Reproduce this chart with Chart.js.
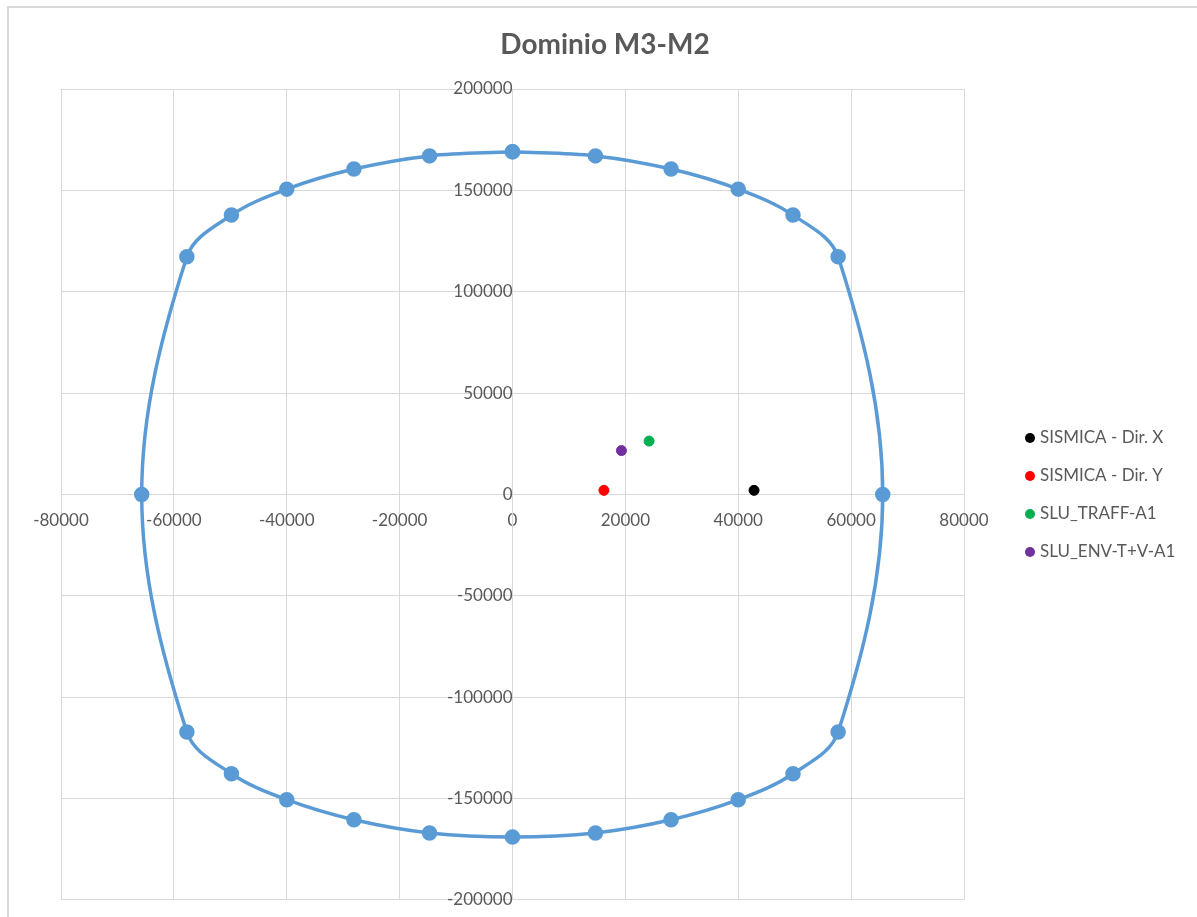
<!DOCTYPE html>
<html>
<head>
<meta charset="utf-8">
<script src="https://cdn.jsdelivr.net/npm/chart.js@4.4.1/dist/chart.umd.min.js"></script>
<style>
  html, body { margin:0; padding:0; background:#fff; }
  #wrap { position:relative; width:1197px; height:917px; overflow:hidden; }
  #frame { position:absolute; left:7px; top:6px; width:1200px; height:1000px;
           border-left:2px solid #d9d9d9; border-top:2px solid #d9d9d9; }
  #chart { position:absolute; left:0; top:0; }
</style>
</head>
<body>
<div id="wrap">
  <div id="frame"></div>
  <canvas id="chart" width="1197" height="929"></canvas>
</div>
<script>
// dominio resistente M3-M2
const domainM3 = [0, 14700, 28100, 40000, 49700, 57700, 65600, 57700, 49700, 40000, 28100, 14700,
                  0, -14700, -28100, -40000, -49800, -57700, -65700, -57700, -49800, -40000, -28100, -14700, 0];
const domainM2 = [169000, 167000, 160500, 150600, 137800, 117200, 0, -117200, -137800, -150600, -160500, -167000,
                  -169000, -167000, -160500, -150600, -137800, -117200, 0, 117200, 137800, 150600, 160500, 167000, 169000];

// combinazioni di carico
const loadNames  = ["SISMICA - Dir. X", "SISMICA - Dir. Y", "SLU_TRAFF-A1", "SLU_ENV-T+V-A1"];
const loadM3     = [42800, 16200, 24200, 19300];
const loadM2     = [2000, 2000, 26300, 21600];
const loadColors = ["#000000", "#ff0000", "#00b050", "#7030a0"];

// assi
const xTicks = [-80000, -60000, -40000, -20000, 0, 20000, 40000, 60000, 80000];
const yTicks = [-200000, -150000, -100000, -50000, 0, 50000, 100000, 150000, 200000];

const TITLE = "Dominio M3-M2";
const TEXT = "#595959";
const GRID = "#d9d9d9";
const FONT = "Lato, 'Liberation Sans', sans-serif";

const datasets = [{
  label: "Dominio",
  data: domainM3.map((x, i) => ({x: x, y: domainM2[i]})),
  showLine: true,
  borderColor: "#5b9bd5",
  backgroundColor: "#5b9bd5",
  borderWidth: 3.5,
  tension: 0.35,
  pointRadius: 6,
  pointHoverRadius: 6
}];
loadNames.forEach((name, i) => {
  datasets.push({
    label: name,
    data: [{x: loadM3[i], y: loadM2[i]}],
    borderColor: loadColors[i],
    backgroundColor: loadColors[i],
    pointRadius: 5,
    pointHoverRadius: 5
  });
});

// titolo centrato su tutta l'area del grafico + legenda a destra (solo le combinazioni)
const excelDecor = {
  id: "excelDecor",
  afterDraw(chart) {
    const ctx = chart.ctx;
    ctx.save();
    ctx.fillStyle = TEXT;
    ctx.font = "bold 28px " + FONT;
    ctx.textAlign = "center";
    ctx.textBaseline = "middle";
    ctx.fillText(TITLE, 605, 45);

    ctx.font = "17px " + FONT;
    ctx.textAlign = "left";
    chart.data.datasets.slice(1).forEach((ds, i) => {
      const y = 438 + i * 38;
      ctx.fillStyle = ds.backgroundColor;
      ctx.beginPath();
      ctx.arc(1030, y, 5, 0, Math.PI * 2);
      ctx.fill();
      ctx.fillStyle = TEXT;
      ctx.fillText(ds.label, 1040, y);
    });
    ctx.restore();
  }
};

new Chart(document.getElementById("chart"), {
  type: "scatter",
  data: { datasets: datasets },
  options: {
    responsive: false,
    animation: false,
    layout: { padding: { left: 61, right: 233, top: 89, bottom: 6 } },
    plugins: {
      legend: { display: false },
      tooltip: { enabled: false },
      title: { display: false }
    },
    scales: {
      x: {
        type: "linear",
        position: { y: 0 },
        min: -80000, max: 80000,
        afterFit(s) { s.height = 0; },
        afterBuildTicks(s) { s.ticks = xTicks.map(v => ({value: v})); },
        grid: { color: GRID, drawTicks: false },
        border: { color: GRID, width: 1 },
        ticks: {
          color: TEXT, font: { family: FONT, size: 17 },
          padding: 16, maxRotation: 0, autoSkip: false,
          callback: v => String(v)
        }
      },
      y: {
        type: "linear",
        position: { x: 0 },
        min: -200000, max: 200000,
        afterFit(s) { s.width = 0; },
        afterBuildTicks(s) { s.ticks = yTicks.map(v => ({value: v})); },
        grid: { color: GRID, drawTicks: false },
        border: { color: GRID, width: 1 },
        ticks: {
          color: TEXT, font: { family: FONT, size: 17 },
          padding: 19, autoSkip: false,
          callback: v => String(v)
        }
      }
    }
  },
  plugins: [excelDecor]
});
</script>
</body>
</html>
